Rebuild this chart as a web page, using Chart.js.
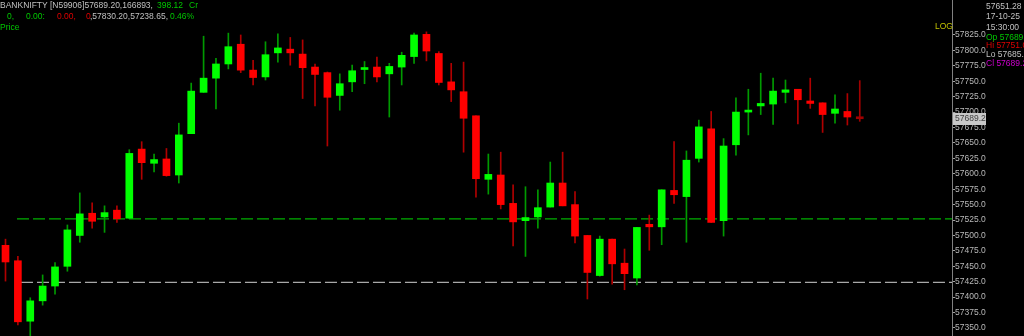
<!DOCTYPE html>
<html>
<head>
<meta charset="utf-8">
<script src="https://cdn.jsdelivr.net/npm/chart.js@4.4.0/dist/chart.umd.min.js"></script>
<style>
  body { margin: 0; background: #000; }
  #wrap { position: relative; width: 1024px; height: 336px; overflow: hidden; }
  .t { position: absolute; font: 8.5px "Liberation Sans", Arial, sans-serif; white-space: pre; line-height: 10px; }
  .gray { color: #c0c0c0; }
  .green { color: #00c800; }
  .red { color: #e00000; }
  .mag { color: #d000d0; }
</style>
</head>
<body>
<div id="wrap">
  <canvas id="chart"></canvas>

  <div class="t gray" style="left:0;top:0">BANKNIFTY [N59906]57689.20,166893,</div>
  <div class="t green" style="left:157px;top:0">398.12</div>
  <div class="t green" style="left:189px;top:0">Cr</div>

  <div class="t green" style="left:7px;top:11px">0,</div>
  <div class="t green" style="left:26px;top:11px">0.00:</div>
  <div class="t red" style="left:57px;top:11px">0.00,</div>
  <div class="t red" style="left:86px;top:11px">0</div>
  <div class="t gray" style="left:90px;top:11px">,57830.20,57238.65,</div>
  <div class="t green" style="left:170px;top:11px">0.46%</div>

  <div class="t green" style="left:0;top:22px">Price</div>

  <div class="t" style="left:935px;top:21px;color:#c0c000">LOG</div>

  <div class="t gray" style="left:986px;top:1px">57651.28</div>
  <div class="t gray" style="left:986px;top:11px">17-10-25</div>
  <div class="t gray" style="left:986px;top:22px">15:30:00</div>
  <div class="t green" style="left:986px;top:32px">Op 57689.20</div>
  <div class="t red" style="left:986px;top:40px">Hi 57751.00</div>
  <div class="t gray" style="left:986px;top:49px">Lo 57685.00</div>
  <div class="t mag" style="left:986px;top:58px">Cl 57689.20</div>
</div>

<script>
const opens  = [57484, 57459, 57361, 57394, 57418, 57450, 57500, 57536, 57530, 57541,
                57528, 57640, 57617, 57624, 57598, 57665, 57732, 57755, 57778, 57810,
                57768, 57757, 57796, 57802, 57794, 57773, 57764, 57727, 57749, 57769,
                57773, 57762, 57773, 57790, 57826, 57795, 57749, 57733, 57694, 57591,
                57598, 57552, 57524, 57530, 57546, 57585, 57550, 57500, 57435, 57494,
                57455, 57431, 57518, 57514, 57573, 57563, 57625, 57673, 57524, 57647,
                57700, 57710, 57713, 57732, 57737, 57718, 57715, 57698, 57701, 57690];
const highs  = [57494, 57466, 57399, 57436, 57456, 57517, 57569, 57553, 57548, 57548,
                57639, 57652, 57632, 57641, 57682, 57747, 57823, 57787, 57828, 57825,
                57784, 57814, 57827, 57821, 57817, 57778, 57765, 57762, 57776, 57782,
                57789, 57779, 57797, 57828, 57830, 57798, 57779, 57781, 57694, 57632,
                57635, 57582, 57579, 57574, 57619, 57635, 57571, 57500, 57499, 57494,
                57478, 57513, 57533, 57574, 57652, 57637, 57687, 57701, 57657, 57723,
                57737, 57763, 57755, 57752, 57737, 57755, 57715, 57728, 57730, 57751];
const lows   = [57426, 57355, 57330, 57387, 57405, 57442, 57489, 57512, 57505, 57521,
                57527, 57591, 57603, 57596, 57585, 57665, 57732, 57705, 57770, 57764,
                57744, 57752, 57781, 57776, 57722, 57710, 57645, 57703, 57733, 57746,
                57749, 57692, 57744, 57779, 57783, 57744, 57717, 57635, 57562, 57567,
                57543, 57483, 57466, 57512, 57546, 57548, 57488, 57397, 57434, 57421,
                57412, 57420, 57476, 57485, 57552, 57489, 57619, 57521, 57499, 57630,
                57663, 57696, 57680, 57715, 57681, 57706, 57667, 57682, 57679, 57685];
const closes = [57457, 57360, 57394, 57418, 57449, 57509, 57535, 57523, 57537, 57527,
                57633, 57618, 57623, 57597, 57663, 57734, 57755, 57778, 57806, 57768,
                57756, 57793, 57804, 57796, 57772, 57761, 57724, 57746, 57767, 57772,
                57757, 57774, 57792, 57825, 57799, 57748, 57736, 57690, 57592, 57599,
                57550, 57522, 57529, 57545, 57585, 57548, 57499, 57440, 57494, 57454,
                57438, 57513, 57514, 57574, 57566, 57622, 57676, 57521, 57645, 57700,
                57703, 57714, 57734, 57736, 57720, 57714, 57696, 57705, 57692, 57689.2];

// horizontal levels (dashed)
const levelValues = [57527, 57424];
const levelColors = ['#00b000', '#a8a8a8'];
const levelStart  = [0.93, 1.25];

// price axis
const yTicksMin = 57350;
const yTicksMax = 57825;
const yStep = 25;

const UP = '#00ff00', DOWN = '#ff0000';
const UP_WICK = '#009a00', DOWN_WICK = '#b00000', LAST = '#a00000';

const X_MIN = -0.444, X_MAX = 76.45;
const Y_MIN = 57337, Y_MAX = 57881.7;

const n = closes.length;
const wickData = [], bodyData = [], bodyColors = [], wickColors = [];
for (let i = 0; i < n; i++) {
  const up = closes[i] >= opens[i];
  wickData.push({ x: i, y: [lows[i], highs[i]] });
  bodyData.push({ x: i, y: [opens[i], closes[i]] });
  if (i === n - 1) {
    bodyColors.push(LAST);
    wickColors.push(LAST);
  } else {
    bodyColors.push(up ? UP : DOWN);
    wickColors.push(up ? UP_WICK : DOWN_WICK);
  }
}

const levelSets = levelValues.map(function(v, k) {
  return {
    type: 'line',
    data: [{ x: levelStart[k], y: v }, { x: X_MAX, y: v }],
    borderColor: levelColors[k],
    borderWidth: 1.2,
    borderDash: [12, 4],
    pointRadius: 0,
    order: 3
  };
});

// last-price tag on the axis
const priceTag = {
  id: 'priceTag',
  afterDraw(chart) {
    const ctx = chart.ctx;
    const y = chart.scales.y.getPixelForValue(closes[n - 1]);
    const x = chart.chartArea.right + 1;
    ctx.save();
    ctx.fillStyle = '#c8c8c8';
    ctx.fillRect(x, Math.round(y) - 6, 33, 12);
    ctx.fillStyle = '#404040';
    ctx.font = '8.5px "Liberation Sans", Arial, sans-serif';
    ctx.textBaseline = 'middle';
    ctx.fillText(closes[n - 1].toFixed(1), x + 2, Math.round(y));
    ctx.restore();
  }
};

new Chart(document.getElementById('chart'), {
  type: 'bar',
  data: {
    datasets: [
      {
        data: wickData,
        backgroundColor: wickColors,
        barThickness: 1,
        grouped: false,
        order: 2
      },
      {
        data: bodyData,
        backgroundColor: bodyColors,
        barThickness: 7,
        minBarLength: 2,
        grouped: false,
        order: 1
      }
    ].concat(levelSets)
  },
  options: {
    responsive: true,
    maintainAspectRatio: false,
    animation: false,
    layout: { padding: 0 },
    plugins: {
      legend: { display: false },
      tooltip: { enabled: false }
    },
    scales: {
      x: {
        type: 'linear',
        min: X_MIN,
        max: X_MAX,
        offset: false,
        display: false
      },
      y: {
        position: 'right',
        min: Y_MIN,
        max: Y_MAX,
        border: { color: '#808080', width: 1 },
        grid: {
          drawOnChartArea: false,
          drawTicks: true,
          tickLength: 3,
          color: '#a0a0a0'
        },
        ticks: {
          color: '#b8b8b8',
          padding: 0,
          font: { family: '"Liberation Sans", Arial, sans-serif', size: 8.5 },
          callback: function(v) { return Number(v).toFixed(1); }
        },
        afterBuildTicks: function(scale) {
          const t = [];
          for (let v = yTicksMin; v <= yTicksMax; v += yStep) t.push({ value: v });
          scale.ticks = t;
        },
        afterFit: function(scale) {
          scale.width = 72;
          scale.paddingTop = 0;
          scale.paddingBottom = 0;
        }
      }
    }
  },
  plugins: [priceTag]
});
</script>
</body>
</html>
